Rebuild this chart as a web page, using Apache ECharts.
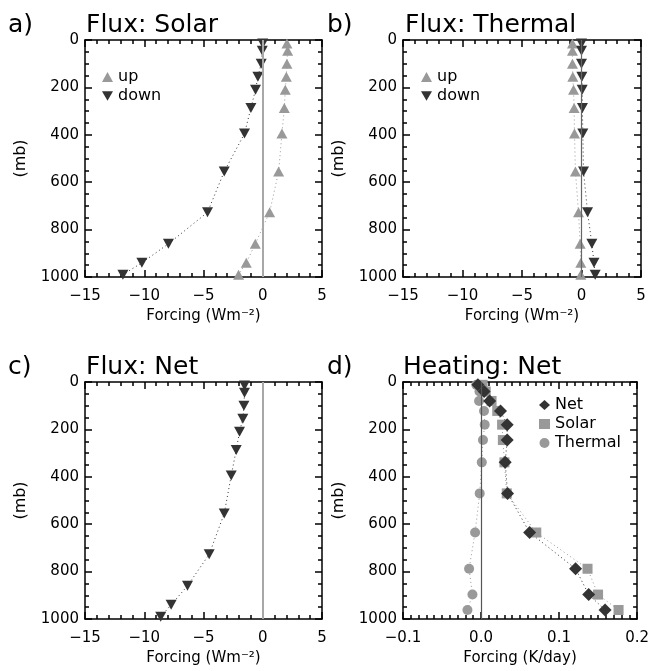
<!DOCTYPE html>
<html>
<head>
<meta charset="utf-8">
<script src="https://cdn.jsdelivr.net/npm/echarts@6/dist/echarts.min.js"></script>
<style>
  html, body { margin: 0; padding: 0; background: #ffffff; }
  #chart { width: 652px; height: 671px; }
</style>
</head>
<body>
<div id="chart"></div>
<script>
// Pressure levels (mb): flux at layer interfaces, heating at layer centres
const fluxLevels = [15, 45, 100, 155, 210, 287, 395, 555, 727, 860, 940, 990];
const heatLevels = [12, 40, 80, 122, 180, 245, 339, 470, 635, 788, 897, 962];

// Flux forcing (W m-2)
const solarUp     = [2.04, 2.1, 2.04, 1.99, 1.9, 1.82, 1.62, 1.34, 0.58, -0.63, -1.39, -2.04];
const solarDown   = [0.0, -0.04, -0.13, -0.41, -0.61, -1.0, -1.54, -3.25, -4.66, -7.96, -10.2, -11.8];
const thermalUp   = [-0.76, -0.76, -0.76, -0.73, -0.67, -0.62, -0.59, -0.51, -0.25, -0.11, -0.06, -0.06];
const thermalDown = [0.0, 0.0, 0.0, 0.03, 0.06, 0.08, 0.11, 0.17, 0.51, 0.87, 1.05, 1.15];
const netFlux     = [-1.54, -1.54, -1.59, -1.68, -1.96, -2.24, -2.66, -3.25, -4.52, -6.35, -7.73, -8.61];

// Heating rate forcing (K/day)
const heatNet     = [-0.004, 0.004, 0.011, 0.025, 0.0335, 0.0335, 0.031, 0.034, 0.0623, 0.1212, 0.138, 0.159];
const heatSolar   = [0.002, 0.006, 0.0135, 0.0208, 0.027, 0.028, 0.030, 0.033, 0.0708, 0.1365, 0.150, 0.1763];
const heatThermal = [-0.006, -0.002, -0.0025, 0.0038, 0.0047, 0.0025, 0.001, -0.0017, -0.0076, -0.0153, -0.011, -0.0174];

// Axis ticks
const fluxTicks = { min: -15, max: 5, interval: 5, minorSplit: 5 };
const heatTicks = { min: -0.1, max: 0.2, interval: 0.1, minorSplit: 10 };
const presTicks = { min: 0, max: 1000, interval: 200, minorSplit: 4 };

const FONT = 'DejaVu Sans';
const DARK = '#333333';
const LIGHT = '#999999';
const DOWN_TRI = 'path://M0,0L20,0L10,17.3Z';

const minusFmt = (digits) => (v) => {
  const s = digits ? Math.abs(v).toFixed(digits) : String(Math.abs(v));
  return v < -1e-9 ? '\u2212' + s : s;
};

const boxes = [
  { left: 85,  top: 40,  width: 237, height: 237 },
  { left: 403, top: 40,  width: 238, height: 237 },
  { left: 85,  top: 382, width: 237, height: 237 },
  { left: 403, top: 382, width: 236, height: 237 }
];

const grid = boxes.map(b => ({ left: b.left, top: b.top, width: b.width, height: b.height, containLabel: false }));

// Frame on all four sides, ticks pointing into the plot
const frame = { show: true, onZero: false, lineStyle: { color: '#000', width: 1.5 } };
const tick = { show: true, inside: true, length: 7, lineStyle: { color: '#000', width: 1.5 } };
const minor = (n) => ({ show: true, splitNumber: n, length: 4, lineStyle: { color: '#000', width: 1.5 } });

const xAxis = [], yAxis = [];
const xSpec = [fluxTicks, fluxTicks, fluxTicks, heatTicks];
const xNames = ['Forcing (Wm\u207B\u00B2)', 'Forcing (Wm\u207B\u00B2)', 'Forcing (Wm\u207B\u00B2)', 'Forcing (K/day)'];
xSpec.forEach((t, i) => {
  const base = {
    gridIndex: i, type: 'value', min: t.min, max: t.max, interval: t.interval,
    axisLine: frame, axisTick: tick, minorTick: minor(t.minorSplit),
    splitLine: { show: false }
  };
  xAxis.push(Object.assign({}, base, {
    position: 'bottom',
    axisLabel: { show: true, margin: 12, color: '#000', fontFamily: FONT, fontSize: 15,
                 formatter: minusFmt(i === 3 ? 1 : 0) },
    name: xNames[i], nameLocation: 'middle', nameGap: 32,
    nameTextStyle: { color: '#000', fontFamily: FONT, fontSize: 15 }
  }));
  xAxis.push(Object.assign({}, base, { position: 'top', axisLabel: { show: false } }));

  const ybase = {
    gridIndex: i, type: 'value', inverse: true,
    min: presTicks.min, max: presTicks.max, interval: presTicks.interval,
    axisLine: frame, axisTick: tick, minorTick: minor(presTicks.minorSplit),
    splitLine: { show: false }
  };
  yAxis.push(Object.assign({}, ybase, {
    position: 'left',
    axisLabel: { show: true, margin: 6, color: '#000', fontFamily: FONT, fontSize: 15,
                 formatter: (v) => String(v) },
    name: '(mb)', nameLocation: 'middle', nameGap: 56, nameRotate: 90,
    nameTextStyle: { color: '#000', fontFamily: FONT, fontSize: 16 }
  }));
  yAxis.push(Object.assign({}, ybase, { position: 'right', axisLabel: { show: false } }));
});

const pair = (vals, levels) => vals.map((v, k) => [v, levels[k]]);

function profile(panel, name, vals, levels, symbol, size, color) {
  return {
    type: 'line', name: name, xAxisIndex: 2 * panel, yAxisIndex: 2 * panel,
    data: pair(vals, levels), symbol: symbol, symbolSize: size, z: 3,
    itemStyle: { color: color },
    lineStyle: { color: color, width: 1, type: [1, 3] },
    emphasis: { disabled: true }
  };
}

function zeroLine(panel, color, width) {
  return {
    type: 'line', xAxisIndex: 2 * panel, yAxisIndex: 2 * panel, data: [], z: 1,
    markLine: {
      silent: true, symbol: 'none', label: { show: false }, animation: false,
      lineStyle: { color: color, width: width, type: 'solid' },
      data: [{ xAxis: 0 }]
    }
  };
}

const series = [
  zeroLine(0, '#a8a8a8', 2),
  profile(0, 'up', solarUp, fluxLevels, 'triangle', [11, 10], LIGHT),
  profile(0, 'down', solarDown, fluxLevels, DOWN_TRI, [11, 10], DARK),

  zeroLine(1, '#666666', 1.2),
  profile(1, 'up', thermalUp, fluxLevels, 'triangle', [11, 10], LIGHT),
  profile(1, 'down', thermalDown, fluxLevels, DOWN_TRI, [11, 10], DARK),

  zeroLine(2, '#a8a8a8', 2),
  profile(2, 'net', netFlux, fluxLevels, DOWN_TRI, [11, 10], DARK),

  zeroLine(3, '#555555', 1.2),
  profile(3, 'Thermal', heatThermal, heatLevels, 'circle', 10, LIGHT),
  profile(3, 'Solar', heatSolar, heatLevels, 'rect', [10, 10], LIGHT),
  profile(3, 'Net', heatNet, heatLevels, 'diamond', [13, 13], DARK)
];

const titleStyle = { color: '#000', fontFamily: FONT, fontSize: 25, fontWeight: 'normal' };
const mkTitle = (text, left, top) => ({ text: text, left: left, top: top, padding: 0, textStyle: titleStyle });
const title = [
  mkTitle('a)', 8, 13),   mkTitle('Flux: Solar', 86, 13),
  mkTitle('b)', 327, 13), mkTitle('Flux: Thermal', 405, 13),
  mkTitle('c)', 8, 355),  mkTitle('Flux: Net', 86, 355),
  mkTitle('d)', 327, 355), mkTitle('Heating: Net', 403, 355)
];

const legendText = { color: '#000', fontFamily: FONT, fontSize: 16 };
const mkLegend = (left, top, items) => ({
  left: left, top: top, orient: 'vertical', padding: 0, itemGap: 3,
  itemWidth: 11, itemHeight: 10, selectedMode: false,
  textStyle: legendText, data: items
});
const upDown = [{ name: 'up', icon: 'triangle' }, { name: 'down', icon: DOWN_TRI }];
const legend = [
  mkLegend(102, 69, upDown),
  mkLegend(421, 69, upDown),
  mkLegend(539, 397, [
    { name: 'Net', icon: 'diamond' },
    { name: 'Solar', icon: 'rect' },
    { name: 'Thermal', icon: 'circle' }
  ])
];

const chart = echarts.init(document.getElementById('chart'), null, { renderer: 'canvas' });
chart.setOption({
  animation: false,
  backgroundColor: '#ffffff',
  title: title,
  legend: legend,
  grid: grid,
  xAxis: xAxis,
  yAxis: yAxis,
  series: series
});
</script>
</body>
</html>
